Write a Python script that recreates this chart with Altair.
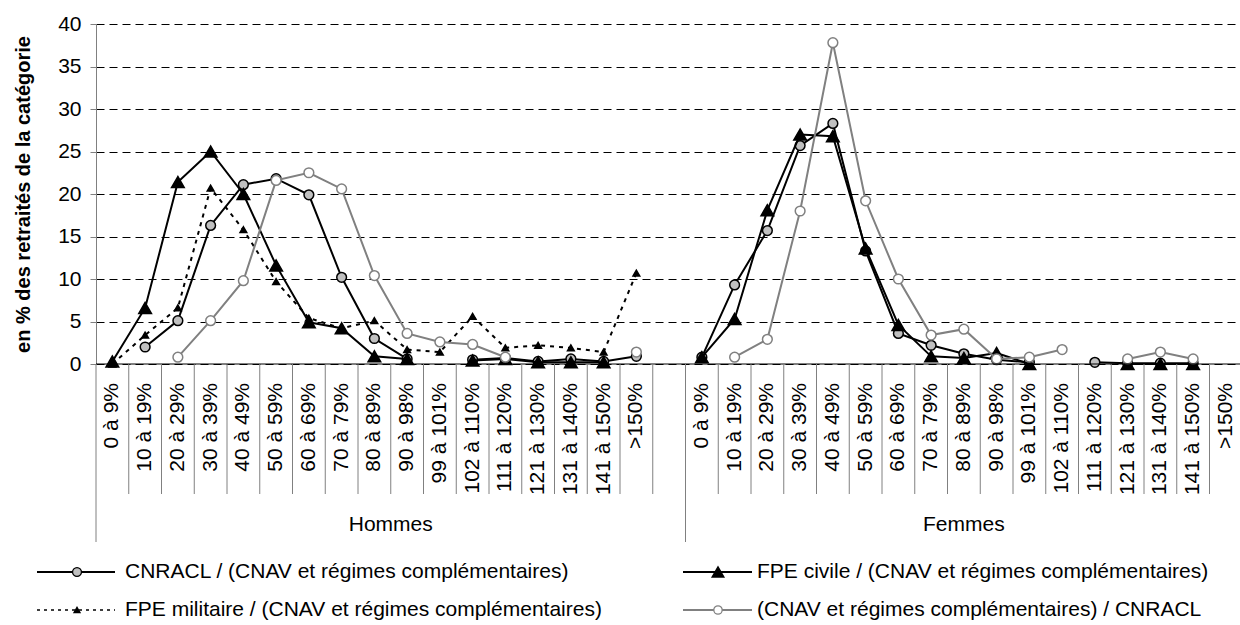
import altair as alt
import pandas as pd

# ---------------- data ----------------
categories = ["0 à 9%", "10 à 19%", "20 à 29%", "30 à 39%", "40 à 49%", "50 à 59%",
              "60 à 69%", "70 à 79%", "80 à 89%", "90 à 98%", "99 à 101%", "102 à 110%",
              "111 à 120%", "121 à 130%", "131 à 140%", "141 à 150%", ">150%"]
groups = ["Hommes", "Femmes"]
series_names = [
    "CNRACL / (CNAV et régimes complémentaires)",
    "FPE civile / (CNAV et régimes complémentaires)",
    "FPE militaire / (CNAV et régimes complémentaires)",
    "(CNAV et régimes complémentaires) / CNRACL",
]

cnracl_h = [None, 2.0, 5.1, 16.3, 21.1, 21.8, 19.9, 10.2, 3.0, 0.6, None, 0.5, 0.7, 0.3, 0.6, 0.3, 0.9]
cnracl_f = [0.8, 9.3, 15.7, 25.7, 28.3, 13.3, 3.6, 2.2, 1.2, 0.5, 0.2, None, 0.2, 0.1, 0.1, 0.1, None]
civile_h = [0.3, 6.6, 21.4, 25.0, 20.0, 11.6, 4.9, 4.2, 0.9, 0.6, None, 0.4, 0.6, 0.2, 0.2, 0.2, None]
civile_f = [0.8, 5.3, 18.1, 27.0, 26.8, 13.6, 4.6, 0.9, 0.7, 1.3, 0.0, None, None, 0.0, 0.0, 0.0, None]
militaire_h = [0.0, 3.4, 6.6, 20.7, 15.8, 9.7, 5.4, 4.2, 5.1, 1.7, 1.4, 5.6, 1.9, 2.2, 1.9, 1.4, 10.7]
militaire_f = [None] * 17
inverse_h = [None, None, 0.8, 5.1, 9.8, 21.6, 22.5, 20.6, 10.4, 3.6, 2.6, 2.3, 0.8, None, None, None, 1.4]
inverse_f = [None, 0.8, 2.9, 18.0, 37.8, 19.2, 10.0, 3.4, 4.1, 0.6, 0.8, 1.7, None, 0.6, 1.4, 0.6, None]

series_values = [
    (cnracl_h, cnracl_f),
    (civile_h, civile_f),
    (militaire_h, militaire_f),
    (inverse_h, inverse_f),
]

# ---------------- layout / styles ----------------
n_cat = len(categories)
n_slots = 2 * n_cat + 1          # 17 + gap + 17
slot_px = 32.75
W_RANGE = n_slots * slot_px
W = 1144
H = 340
FONT = "Liberation Sans"
FS = 21

xscale = alt.Scale(domain=[0, n_slots], range=[0, W_RANGE], nice=False, zero=False)
yscale = alt.Scale(domain=[0, 40], nice=False)
yaxis = alt.Axis(values=list(range(0, 41, 5)), grid=True, gridDash=[8, 5], gridColor="black",
                 gridWidth=1, domainColor="#808080", tickColor="#808080", tickSize=6,
                 labelFontSize=FS, labelFont=FONT, labelColor="black", labelPadding=9,
                 title="en % des retraités de la catégorie", titleFontSize=20, titleFont=FONT,
                 titleFontWeight="bold", titleColor="black", titlePadding=24)

styles = [
    dict(color="black", dash=None, shape="circle", fill="#C0C0C0", size=95, lsize=80),
    dict(color="black", dash=None, shape="triangle-up", fill="black", size=160, lsize=140),
    dict(color="black", dash=[4, 5], shape="triangle-up", fill="black", size=45, lsize=36),
    dict(color="#808080", dash=None, shape="circle", fill="white", size=95, lsize=70),
]

# ---------------- build data table ----------------
rows = []
for si, (name, (vh, vf)) in enumerate(zip(series_names, series_values)):
    for gi, vals in enumerate((vh, vf)):
        seg = 0
        for ci, v in enumerate(vals):
            if v is None:
                seg += 1
                continue
            idx = gi * (n_cat + 1) + ci
            rows.append(dict(series=name, sid=si, group=groups[gi], cat=categories[ci],
                             pos=idx + 0.5, value=v, seg=f"{si}-{gi}-{seg}"))
df = pd.DataFrame(rows)

layers = []
for si, st in enumerate(styles):
    d = df[df.sid == si]
    if d.empty:
        continue
    line_kw = dict(color=st["color"], strokeWidth=2)
    if st["dash"]:
        line_kw["strokeDash"] = st["dash"]
    base = alt.Chart(d).encode(
        x=alt.X("pos:Q", scale=xscale, axis=None),
        y=alt.Y("value:Q", scale=yscale, axis=yaxis),
    )
    layers.append(base.mark_line(**line_kw).encode(detail="seg:N"))
    layers.append(base.mark_point(shape=st["shape"], size=st["size"], fill=st["fill"],
                                  stroke=st["color"], strokeWidth=1.5, opacity=1, fillOpacity=1))

# x-axis line at 0
axis_df = pd.DataFrame({"a": [0], "b": [n_slots]})
layers.append(alt.Chart(axis_df).mark_rule(color="black", strokeWidth=1).encode(
    x=alt.X("a:Q", scale=xscale, axis=None), x2="b:Q", y=alt.value(H)))

# category boundary ticks
short_b = [b for b in range(0, n_slots + 1) if b not in (0, n_cat + 1)]
tall_b = [0, n_cat + 1]
layers.append(alt.Chart(pd.DataFrame({"b": short_b})).mark_rule(color="#808080", strokeWidth=1).encode(
    x=alt.X("b:Q", scale=xscale, axis=None), y=alt.value(H), y2=alt.value(470)))
layers.append(alt.Chart(pd.DataFrame({"b": tall_b})).mark_rule(color="#808080", strokeWidth=1).encode(
    x=alt.X("b:Q", scale=xscale, axis=None), y=alt.value(H), y2=alt.value(518)))

# category labels
lab_rows = []
for gi in range(2):
    for ci, c in enumerate(categories):
        lab_rows.append(dict(pos=gi * (n_cat + 1) + ci + 0.5, label=c))
layers.append(alt.Chart(pd.DataFrame(lab_rows)).mark_text(
    angle=270, align="right", baseline="middle", fontSize=FS, font=FONT, color="black").encode(
    x=alt.X("pos:Q", scale=xscale, axis=None), y=alt.value(359), text="label:N"))

# group labels
grp_df = pd.DataFrame({"pos": [(n_cat + 1) / 2, (n_cat + 1) + n_cat / 2], "label": groups})
layers.append(alt.Chart(grp_df).mark_text(
    align="center", baseline="middle", fontSize=FS, font=FONT, color="black").encode(
    x=alt.X("pos:Q", scale=xscale, axis=None), y=alt.value(501), text="label:N"))

# custom legend (2 columns x 2 rows)
one = pd.DataFrame({"k": [0]})
cols = [dict(x0=-59, x1=19, xm=-19, xt=29), dict(x0=587, x1=656, xm=622, xt=661)]
rows_y = [548, 586]
placement = [(0, 0), (1, 0), (0, 1), (1, 1)]
for si, (ci, ri) in enumerate(placement):
    st = styles[si]
    c = cols[ci]
    y = rows_y[ri]
    rk = dict(color=st["color"], strokeWidth=2 if si != 2 else 1.5)
    if st["dash"]:
        rk["strokeDash"] = [3, 4]
    layers.append(alt.Chart(one).mark_rule(**rk).encode(
        x=alt.value(c["x0"]), x2=alt.value(c["x1"]), y=alt.value(y)))
    layers.append(alt.Chart(one).mark_point(shape=st["shape"], size=st["lsize"], fill=st["fill"],
                                            stroke=st["color"], strokeWidth=1.3, opacity=1,
                                            fillOpacity=1).encode(
        x=alt.value(c["xm"]), y=alt.value(y)))
    layers.append(alt.Chart(one).mark_text(align="left", baseline="middle", fontSize=FS,
                                           font=FONT, color="black").encode(
        x=alt.value(c["xt"]), y=alt.value(y), text=alt.value(series_names[si])))

chart = alt.layer(*layers).properties(
    width=W, height=H,
    padding={"left": 96, "top": 24, "right": 0, "bottom": 261},
    autosize=alt.AutoSizeParams(type="none"),
    background="white",
).configure_view(stroke=None)

chart.save("out.html", embed_options={"renderer": "svg", "actions": False})
